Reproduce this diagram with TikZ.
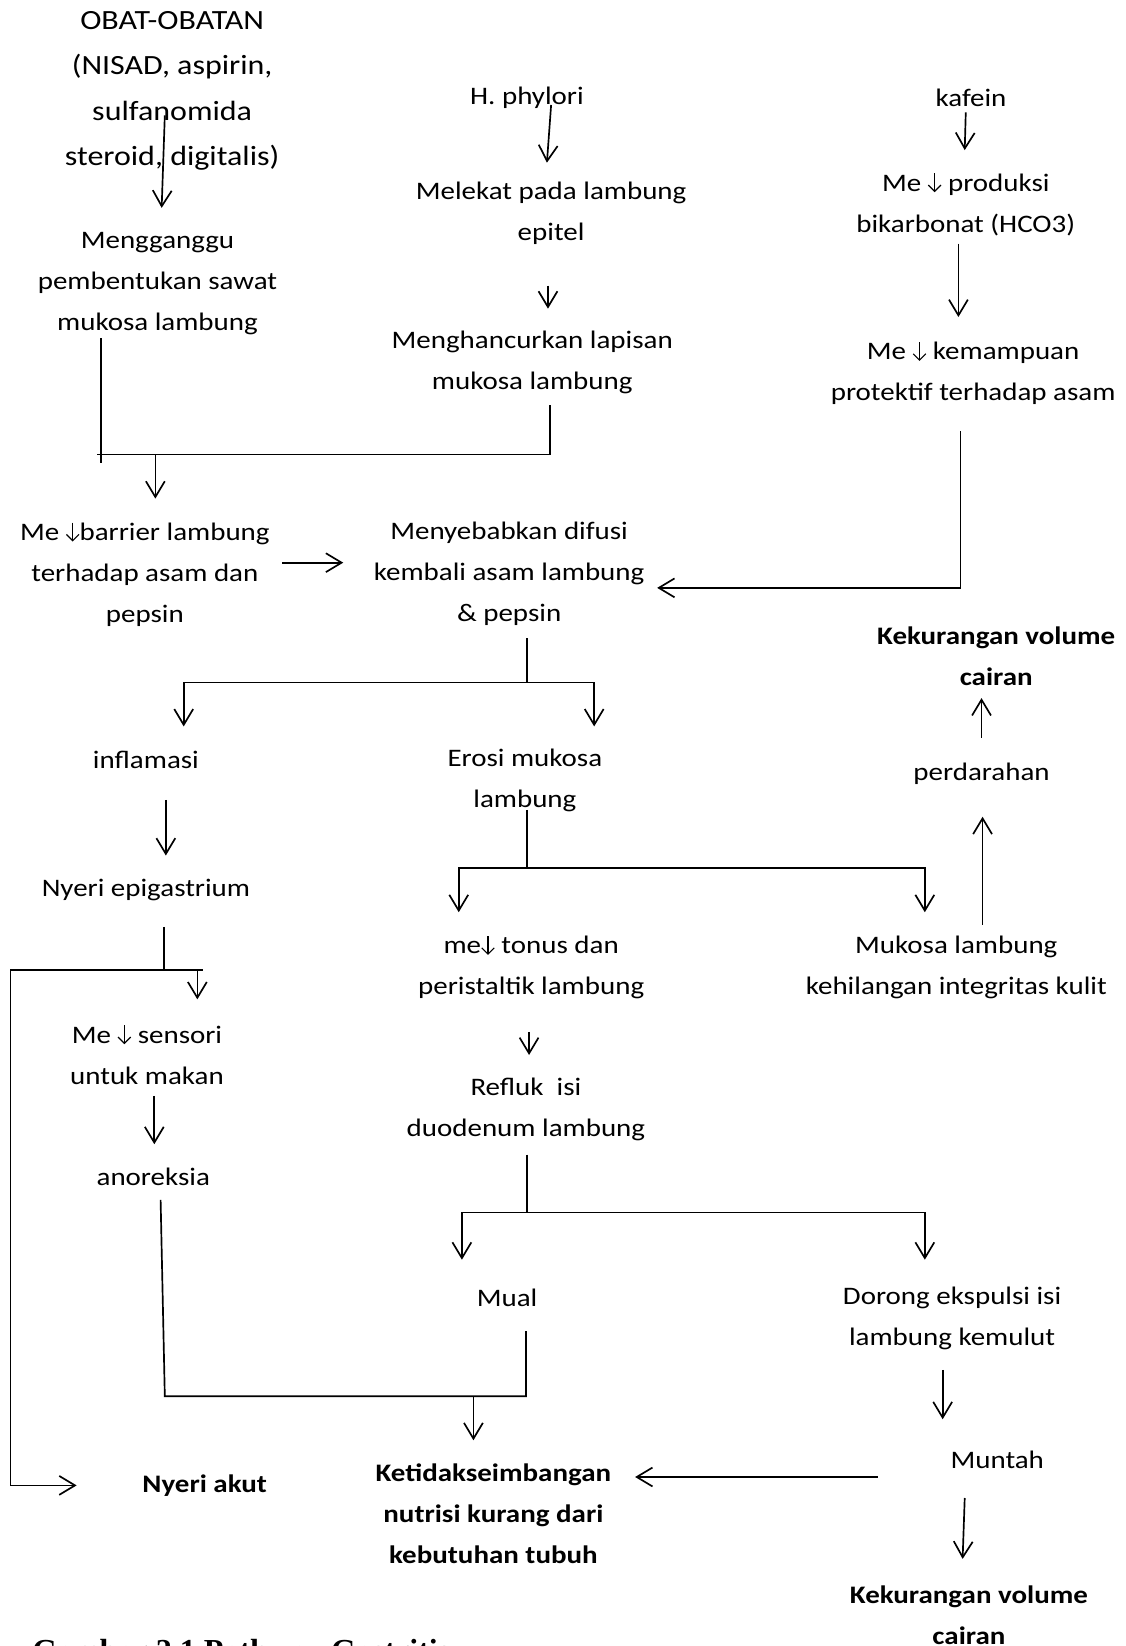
\documentclass[tikz,border=0pt]{standalone}
\usepackage{fontspec}
\setmainfont{Carlito}[FakeStretch=1.15]
\newfontfamily\capfont{Liberation Serif}
\usetikzlibrary{arrows.meta}
\newcommand{\dn}{\tikz[baseline=0pt]\draw[line width=1.1pt, -{Straight Barb[length=6pt, width=12pt]}] (0pt,17pt) -- (0pt,-1pt);}
\tikzset{
	txt/.style={align=center, inner sep=0pt, font=\fontsize{24}{39}\selectfont},
	bld/.style={txt, font=\fontsize{24}{39}\selectfont\bfseries},
	arr/.style={-{Straight Barb[length=15pt, width=18pt]}},
}
\begin{document}
\begin{tikzpicture}[x=1pt, y=-1pt, line width=1.6pt]
		\useasboundingbox (0,0) rectangle (1072,1568);
		\clip (0,0) rectangle (1072,1568);
		\node [txt, font=\fontsize{26.5}{43}\selectfont] (obat) at (164,86.5) {OBAT-OBATAN\\(NISAD, aspirin,\\sulfanomida\\steroid, digitalis)};
		\node [txt] (hpy) at (502,93) {H. phylori};
		\node [txt] (kaf) at (925,93) {kafein};
		\node [txt] (mel) at (525,203.5) {Melekat pada lambung\\epitel};
		\node [txt] (prod) at (920,194.5) {Me \dn{} produksi\\bikarbonat (HCO3)};
		\node [txt] (ggu) at (150,270) {Mengganggu\\pembentukan sawat\\mukosa lambung};
		\node [txt] (hcr) at (507,345.5) {Menghancurkan lapisan\\mukosa lambung};
		\node [txt] (kmp) at (927,355.5) {Me \dn{} kemampuan\\protektif terhadap asam};
		\node [txt] (bar) at (138,547) {Me \dn{}barrier lambung\\terhadap asam dan\\pepsin};
		\node [txt] (dif) at (485,547) {Menyebabkan difusi\\kembali asam lambung\\\& pepsin};
		\node [bld] (kvc1) at (949,625.5) {Kekurangan volume\\cairan};
		\node [txt] (inf) at (139,724) {inflamasi};
		\node [txt] (ero) at (500,743.5) {Erosi mukosa\\lambung};
		\node [txt] (prd) at (935,737) {perdarahan};
		\node [txt] (epi) at (139,848) {Nyeri epigastrium};
		\node [txt] (ton) at (506,921.5) {me\dn{} tonus dan\\peristaltik lambung};
		\node [txt] (muk) at (911,921.5) {Mukosa lambung\\kehilangan integritas kulit};
		\node [txt] (sen) at (140,1004.5) {Me \dn{} sensori\\untuk makan};
		\node [txt] (ref) at (501,1056.5) {Refluk\ \ isi\\duodenum lambung};
		\node [txt] (ano) at (146,1121) {anoreksia};
		\node [txt] (mual) at (483,1236) {Mual};
		\node [txt] (dor) at (907,1255.5) {Dorong ekspulsi isi\\lambung kemulut};
		\node [txt] (mun) at (950,1391) {Muntah};
		\node [bld] (akut) at (195,1415) {Nyeri akut};
		\node [bld] (nut) at (470,1442) {Ketidakseimbangan\\nutrisi kurang dari\\kebutuhan tubuh};
		\node [bld] (kvc2) at (923,1538.5) {Kekurangan volume\\cairan};
		\node [anchor=base west, inner sep=0pt, font=\capfont\bfseries\fontsize{30.5}{36}\selectfont] (cap) at (30,1583) {Gambar 2.1 Pathway Gastritis};
		\coordinate (jt) at (148,433);
		\coordinate (jd) at (502,650);
		\coordinate (je) at (502,827);
		\coordinate (jn) at (156,924);
		\coordinate (jr) at (502,1155);
		\coordinate (jm) at (451,1330);
		\draw [arr] ([shift={(-7,23.5)}]obat.center) -- ([shift={(4,-72)}]ggu.center);
		\draw [arr] ([shift={(23,7)}]hpy.center) -- ([shift={(-4,-48.5)}]mel.center);
		\draw [arr] ([shift={(-5,14)}]kaf.center) -- ([shift={(-1,-51.5)}]prod.center);
		\draw [arr] ([shift={(-3,68.5)}]mel.center) -- ([shift={(15,-51.5)}]hcr.center);
		\draw [arr] ([shift={(-7,37.5)}]prod.center) -- ([shift={(-14,-53.5)}]kmp.center);
		\draw ([shift={(-54,52)}]ggu.center) -- ([shift={(-54,171)}]ggu.center);
		\draw ([shift={(17,40.5)}]hcr.center) |- ([xshift=-56]jt);
		\draw [arr] (jt) -- ([shift={(10,-72)}]bar.center);
		\draw [arr] ([shift={(131,-11)}]bar.center) -- ([shift={(-158,-11)}]dif.center);
		\draw [arr] ([shift={(-12,55.5)}]kmp.center) |- ([shift={(141,13)}]dif.center);
		\draw ([shift={(17,61)}]dif.center) -- (jd);
		\draw [arr] (jd) -| ([shift={(36,-32)}]inf.center);
		\draw [arr] (jd) -| ([shift={(66,-51.5)}]ero.center);
		\draw [arr] ([shift={(19,38)}]inf.center) -- ([shift={(19,-33)}]epi.center);
		\draw ([shift={(2,28)}]ero.center) -- (je);
		\draw [arr] (je) -| ([shift={(-69,-52.5)}]ton.center);
		\draw [arr] (je) -| ([shift={(-30,-52.5)}]muk.center);
		\draw [arr] ([shift={(25,-40.5)}]muk.center) -- ([shift={(1,41)}]prd.center);
		\draw [arr] ([shift={(0,-34)}]prd.center) -- ([shift={(-14,39.5)}]kvc1.center);
		\draw ([shift={(17,35)}]epi.center) -- (jn) -- ++(37,0);
		\draw [arr] (jn) -| ([shift={(48,-52.5)}]sen.center);
		\draw [arr] (jn) -- ++(-146,0) |- ([shift={(-122,0)}]akut.center);
		\draw [arr] ([shift={(7,39.5)}]sen.center) -- ([shift={(1,-31)}]ano.center);
		\draw ([shift={(7,22)}]ano.center) -- ([xshift=-294]jm) -- ([xshift=50]jm) -- ([shift={(18,32)}]mual.center);
		\draw [arr] (jm) -- ([shift={(-19,-70)}]nut.center);
		\draw [arr] ([shift={(-2,61.5)}]ton.center) -- ([shift={(3,-51.5)}]ref.center);
		\draw ([shift={(1,43.5)}]ref.center) -- (jr);
		\draw [arr] (jr) -| ([shift={(-43,-36)}]mual.center);
		\draw [arr] (jr) -| ([shift={(-26,-55.5)}]dor.center);
		\draw [arr] ([shift={(-9,49.5)}]dor.center) -- ([shift={(-52,-39)}]mun.center);
		\draw [arr] ([shift={(-114,16)}]mun.center) -- ([shift={(135,-35)}]nut.center);
		\draw [arr] ([shift={(-31,36)}]mun.center) -- ([shift={(-6,-53.5)}]kvc2.center);
\end{tikzpicture}
\end{document}
